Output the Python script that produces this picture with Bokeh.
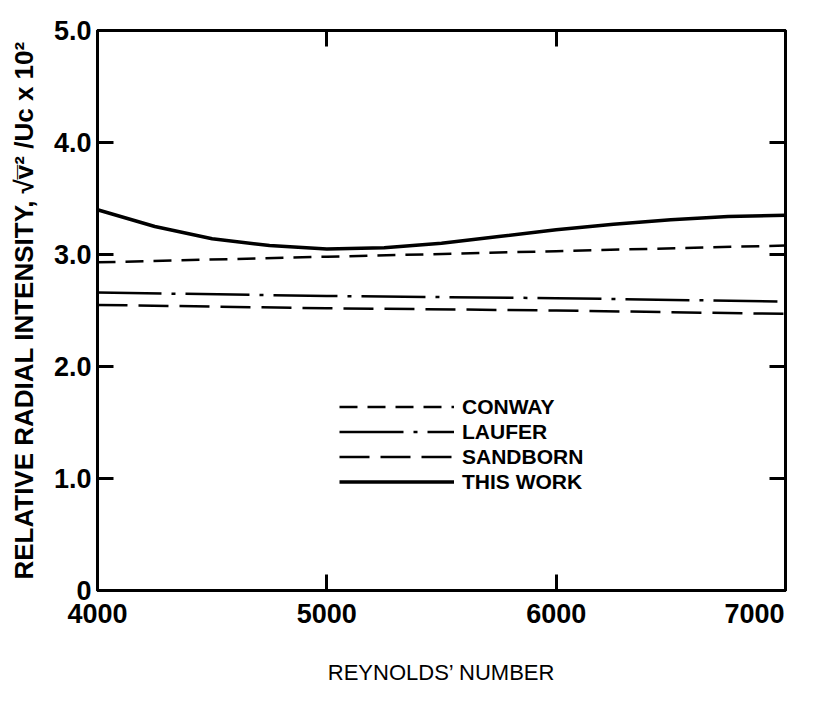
from bokeh.plotting import figure
from bokeh.models import Legend, LegendItem, FixedTicker, LinearAxis, CustomLabelingPolicy
from bokeh.embed import file_html
from bokeh.resources import INLINE

# data
reynolds_this = [4000, 4250, 4500, 4750, 5000, 5250, 5500, 5750, 6000, 6250, 6500, 6750, 7000]
this_work = [3.40, 3.25, 3.14, 3.08, 3.05, 3.06, 3.10, 3.16, 3.22, 3.27, 3.31, 3.34, 3.35]
reynolds_lin = [4000, 5000, 6000, 7000]
conway = [2.93, 2.98, 3.03, 3.08]
laufer = [2.66, 2.63, 2.61, 2.58]
sandborn = [2.55, 2.52, 2.50, 2.47]
x_ticks = [4000, 5000, 6000, 7000]
x_tick_labels = ["4000", "5000", "6000", "7000\u2007"]
y_ticks = [0, 1, 2, 3, 4, 5]
y_tick_labels = ["0", "1.0", "2.0", "3.0", "4.0", "5.0"]

FONT = "Liberation Sans"

p = figure(width=799, height=687, x_range=(4000, 7000), y_range=(0, 5.0),
           output_backend="svg", toolbar_location=None,
           min_border_left=97, min_border_right=14, min_border_top=30, min_border_bottom=92)
p.grid.visible = False
p.outline_line_color = "black"
p.outline_line_width = 3
p.background_fill_color = "white"

for ax in (p.xaxis[0], p.yaxis[0]):
    ax.axis_line_width = 3
    ax.major_tick_line_width = 3
    ax.major_tick_in = 16
    ax.major_tick_out = 0
    ax.minor_tick_line_color = None
    ax.major_label_text_font = FONT
    ax.major_label_text_font_size = "27px"
    ax.major_label_text_font_style = "bold"
    ax.major_label_text_color = "black"
    ax.axis_label_text_font = FONT
    ax.axis_label_text_color = "black"

p.xaxis.ticker = FixedTicker(ticks=x_ticks)
p.xaxis.major_label_overrides = {t: l for t, l in zip(x_ticks, x_tick_labels)}
p.yaxis.ticker = FixedTicker(ticks=y_ticks)
p.yaxis.major_label_overrides = {t: l for t, l in zip(y_ticks, y_tick_labels)}
p.xaxis.axis_label = "REYNOLDS\u2019 NUMBER"
p.xaxis.axis_label_text_font_size = "22px"
p.xaxis.axis_label_text_font_style = "normal"
p.xaxis.axis_label_standoff = 28
p.xaxis.major_label_standoff = 8
p.yaxis.axis_label = "RELATIVE RADIAL INTENSITY, \u221av\u0305\u00b2 /U\u1d04 x 10\u00b2"
p.yaxis.axis_label_text_font_size = "26px"
p.yaxis.axis_label_text_font_style = "bold"
p.yaxis.axis_label_standoff = 12
p.yaxis.major_label_standoff = 6

no_labels = CustomLabelingPolicy(code="""
for (let i = 0; i < indices.size; i++) { indices.unset(i) }
return indices
""")
top = LinearAxis(ticker=FixedTicker(ticks=x_ticks), major_label_policy=no_labels,
                 axis_line_width=3, major_tick_line_width=3, major_tick_in=16, major_tick_out=0,
                 minor_tick_line_color=None)
right = LinearAxis(ticker=FixedTicker(ticks=y_ticks), major_label_policy=no_labels,
                   axis_line_width=3, major_tick_line_width=3, major_tick_in=16, major_tick_out=0,
                   minor_tick_line_color=None)
p.add_layout(top, "above")
p.add_layout(right, "right")

r_conway = p.line(reynolds_lin, conway, line_color="black", line_width=2.5, line_dash="18 10")
r_laufer = p.line(reynolds_lin, laufer, line_color="black", line_width=2.5, line_dash="64 10 4 10")
r_sandborn = p.line(reynolds_lin, sandborn, line_color="black", line_width=2.5, line_dash="30 11")
r_this = p.line(reynolds_this, this_work, line_color="black", line_width=3.5)

legend = Legend(items=[
    LegendItem(label="CONWAY", renderers=[r_conway]),
    LegendItem(label="LAUFER", renderers=[r_laufer]),
    LegendItem(label="SANDBORN", renderers=[r_sandborn]),
    LegendItem(label="THIS WORK", renderers=[r_this]),
], location=(242, 96))
legend.glyph_width = 115
legend.glyph_height = 25
legend.label_height = 25
legend.spacing = 0
legend.padding = 0
legend.margin = 0
legend.label_standoff = 8
legend.label_text_font = FONT
legend.label_text_font_size = "21px"
legend.label_text_font_style = "bold"
legend.label_text_color = "black"
legend.border_line_color = None
legend.background_fill_alpha = 0
p.add_layout(legend, "center")

open("out.html", "w").write(file_html(p, INLINE))
